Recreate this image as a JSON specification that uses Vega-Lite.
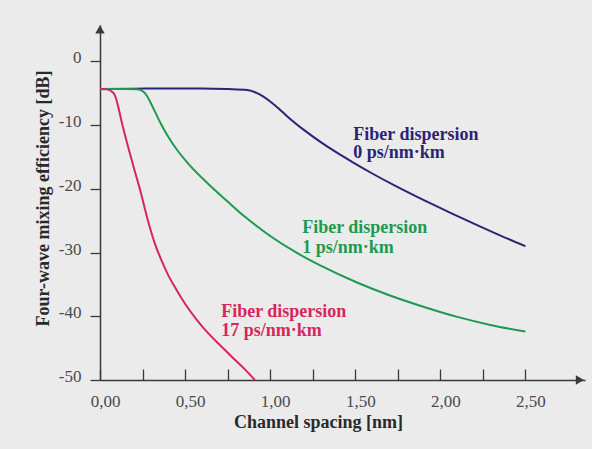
{
  "$schema": "https://vega.github.io/schema/vega-lite/v6.json",
  "width": 485,
  "height": 355,
  "autosize": {"type": "none"},
  "padding": {"left": 100, "top": 25, "right": 7, "bottom": 69},
  "background": "#ebebeb",
  "config": {
    "view": {"stroke": null},
    "font": "Liberation Serif"
  },
  "datasets": {
    "curves": [
      {"series": "0", "x": 0, "y": -4.35}, {"series": "0", "x": 0.2, "y": -4.3}, {"series": "0", "x": 0.4, "y": -4.25},
      {"series": "0", "x": 0.6, "y": -4.25}, {"series": "0", "x": 0.75, "y": -4.35}, {"series": "0", "x": 0.864, "y": -4.5},
      {"series": "0", "x": 0.92, "y": -4.95}, {"series": "0", "x": 0.958, "y": -5.5}, {"series": "0", "x": 1.0, "y": -6.3},
      {"series": "0", "x": 1.05, "y": -7.4}, {"series": "0", "x": 1.099, "y": -8.6}, {"series": "0", "x": 1.2, "y": -10.8},
      {"series": "0", "x": 1.293, "y": -12.6}, {"series": "0", "x": 1.39, "y": -14.3}, {"series": "0", "x": 1.486, "y": -15.85},
      {"series": "0", "x": 1.6, "y": -17.6}, {"series": "0", "x": 1.75, "y": -19.75}, {"series": "0", "x": 1.9, "y": -21.75},
      {"series": "0", "x": 2.05, "y": -23.65}, {"series": "0", "x": 2.2, "y": -25.5}, {"series": "0", "x": 2.35, "y": -27.3},
      {"series": "0", "x": 2.5, "y": -29.0},
      {"series": "1", "x": 0, "y": -4.35}, {"series": "1", "x": 0.15, "y": -4.35}, {"series": "1", "x": 0.217, "y": -4.4},
      {"series": "1", "x": 0.245, "y": -4.6}, {"series": "1", "x": 0.264, "y": -5.0}, {"series": "1", "x": 0.29, "y": -6.1},
      {"series": "1", "x": 0.323, "y": -7.9}, {"series": "1", "x": 0.36, "y": -9.9}, {"series": "1", "x": 0.4, "y": -11.8},
      {"series": "1", "x": 0.45, "y": -13.8}, {"series": "1", "x": 0.517, "y": -16.0}, {"series": "1", "x": 0.635, "y": -19.2},
      {"series": "1", "x": 0.75, "y": -22.0}, {"series": "1", "x": 0.852, "y": -24.4}, {"series": "1", "x": 1.0, "y": -27.4},
      {"series": "1", "x": 1.15, "y": -29.95}, {"series": "1", "x": 1.3, "y": -32.1}, {"series": "1", "x": 1.51, "y": -34.7},
      {"series": "1", "x": 1.7, "y": -36.7}, {"series": "1", "x": 1.9, "y": -38.5}, {"series": "1", "x": 2.1, "y": -40.1},
      {"series": "1", "x": 2.3, "y": -41.4}, {"series": "1", "x": 2.5, "y": -42.4},
      {"series": "17", "x": 0, "y": -4.35}, {"series": "17", "x": 0.04, "y": -4.4}, {"series": "17", "x": 0.076, "y": -4.9},
      {"series": "17", "x": 0.09, "y": -5.5}, {"series": "17", "x": 0.106, "y": -7.0}, {"series": "17", "x": 0.13, "y": -9.8},
      {"series": "17", "x": 0.165, "y": -13.4}, {"series": "17", "x": 0.2, "y": -16.8}, {"series": "17", "x": 0.235, "y": -20.1},
      {"series": "17", "x": 0.282, "y": -25.0}, {"series": "17", "x": 0.32, "y": -28.4}, {"series": "17", "x": 0.364, "y": -31.4},
      {"series": "17", "x": 0.4, "y": -33.5}, {"series": "17", "x": 0.44, "y": -35.4}, {"series": "17", "x": 0.48, "y": -37.2},
      {"series": "17", "x": 0.517, "y": -38.7}, {"series": "17", "x": 0.57, "y": -40.6}, {"series": "17", "x": 0.63, "y": -42.5},
      {"series": "17", "x": 0.7, "y": -44.4}, {"series": "17", "x": 0.78, "y": -46.5}, {"series": "17", "x": 0.85, "y": -48.3},
      {"series": "17", "x": 0.91, "y": -50}
    ],
    "labels": [
      {"series": "0", "x": 1.488, "y": -12.3, "text": "Fiber dispersion"},
      {"series": "0", "x": 1.488, "y": -15.2, "text": "0 ps/nm·km"},
      {"series": "1", "x": 1.188, "y": -26.9, "text": "Fiber dispersion"},
      {"series": "1", "x": 1.188, "y": -30.0, "text": "1 ps/nm·km"},
      {"series": "17", "x": 0.712, "y": -40.1, "text": "Fiber dispersion"},
      {"series": "17", "x": 0.712, "y": -43.1, "text": "17 ps/nm·km"}
    ],
    "arrows": [
      {"x": 0, "y": 5.0, "shape": "triangle-up"},
      {"x": 2.82, "y": -50, "shape": "triangle-right"}
    ]
  },
  "layer": [
    {
      "data": {"name": "curves"},
      "mark": {"type": "line", "strokeWidth": 2, "interpolate": "monotone"},
      "encoding": {
        "x": {
          "field": "x", "type": "quantitative",
          "scale": {"domain": [0, 2.85], "nice": false, "zero": false},
          "axis": {
            "values": [0, 0.25, 0.5, 0.75, 1, 1.25, 1.5, 1.75, 2, 2.25, 2.5],
            "labelExpr": "abs(round(datum.value*100)) % 50 == 0 ? replace(format(datum.value, '.2f'), '.', ',') : ''",
            "grid": false, "labelFlush": false,
            "domainColor": "#3a3a3a", "domainWidth": 1.5,
            "tickColor": "#3a3a3a", "tickWidth": 1.3, "tickSize": -11,
            "labelPadding": 24, "labelOffset": 5,
            "labelFont": "Liberation Serif", "labelFontSize": 17, "labelColor": "#4a4a4a",
            "title": "Channel spacing [nm]",
            "titleFont": "Liberation Serif", "titleFontSize": 18, "titleFontWeight": "bold", "titleColor": "#2a2a2a",
            "titleX": 218, "titleY": 42, "titleBaseline": "middle", "titleAlign": "center"
          }
        },
        "y": {
          "field": "y", "type": "quantitative",
          "scale": {"domain": [-50, 5.7], "nice": false, "zero": false},
          "axis": {
            "values": [0, -10, -20, -30, -40, -50],
            "labelExpr": "datum.value == 0 ? '0' : '-' + abs(datum.value)",
            "grid": false,
            "domainColor": "#3a3a3a", "domainWidth": 1.5,
            "tickColor": "#3a3a3a", "tickWidth": 1.3, "tickSize": 10,
            "labelPadding": 9, "labelOffset": -3.5,
            "labelFont": "Liberation Serif", "labelFontSize": 17, "labelColor": "#4a4a4a",
            "title": "Four-wave mixing efficiency [dB]",
            "titleFont": "Liberation Serif", "titleFontSize": 18, "titleFontWeight": "bold", "titleColor": "#2a2a2a",
            "titleX": -57, "titleY": 173, "titleAngle": -90, "titleBaseline": "middle", "titleAlign": "center"
          }
        },
        "color": {
          "field": "series", "type": "nominal",
          "scale": {"domain": ["0", "1", "17"], "range": ["#2b2474", "#1e9a50", "#d5275a"]},
          "legend": null
        },
        "detail": {"field": "series"}
      }
    },
    {
      "data": {"name": "labels"},
      "mark": {"type": "text", "align": "left", "baseline": "alphabetic", "font": "Liberation Serif", "fontSize": 18, "fontWeight": "bold"},
      "encoding": {
        "x": {"field": "x", "type": "quantitative"},
        "y": {"field": "y", "type": "quantitative"},
        "text": {"field": "text"},
        "color": {"field": "series", "type": "nominal", "legend": null}
      }
    },
    {
      "data": {"name": "arrows"},
      "mark": {"type": "point", "filled": true, "size": 90, "opacity": 1, "color": "#3a3a3a"},
      "encoding": {
        "x": {"field": "x", "type": "quantitative"},
        "y": {"field": "y", "type": "quantitative"},
        "shape": {"field": "shape", "type": "nominal", "scale": null}
      }
    }
  ]
}
